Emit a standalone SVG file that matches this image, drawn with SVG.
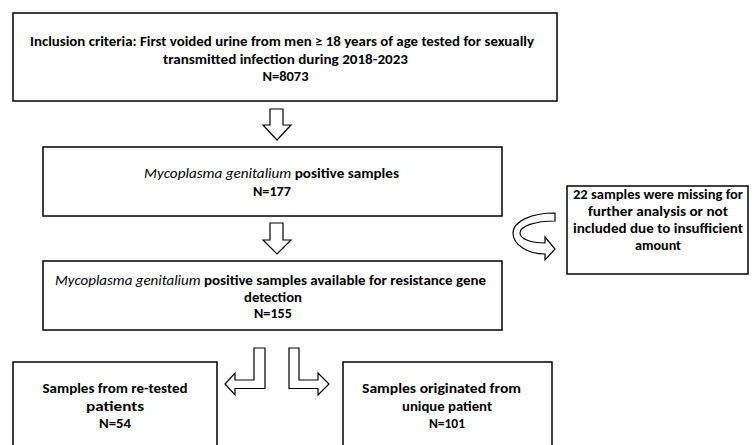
<svg xmlns="http://www.w3.org/2000/svg" width="756" height="445" viewBox="0 0 756 445">
<style>
.box{fill:#fff;stroke:#000;stroke-width:1.5}
.arr{fill:#fff;stroke:#000;stroke-width:1.2;stroke-linejoin:miter}
text{font-family:Carlito,Lato,"Liberation Sans",sans-serif;font-size:13.5px;font-weight:bold;fill:#000;text-anchor:middle}
.it{font-style:italic;font-weight:normal}
</style>
<rect width="756" height="445" fill="#fff"/>
<g id="connectors">
<polygon class="arr" points="270,109 283,109 283,125 291,125 277,140 263,125 270,125"/>
<polygon class="arr" points="270,223 283,223 283,240 291,240 277,254 263,240 270,240"/>
<path class="arr" d="M555,213 C530,213 513,222 513,233 C513,245 528,254 545,254 L545,260 L555,249 L545,237 L545,243 C531,243 520,239 520,233 C520,226 535,221 555,221 Z"/>
<polygon class="arr" points="254,348 265,348 265,388.5 235,388.5 235,395 225,384 235,373 235,380 254,380"/>
<polygon class="arr" points="289,348 299,348 299,380 318,380 318,373 329,384 318,395 318,388.5 289,388.5"/>
</g>
<g id="n1">
<rect class="box" x="13" y="13" width="544" height="88"/>
<text x="282" y="46" textLength="504" lengthAdjust="spacingAndGlyphs">Inclusion criteria: First voided urine from men ≥ 18 years of age tested for sexually</text>
<text x="285.5" y="63.5" textLength="245" lengthAdjust="spacingAndGlyphs">transmitted  infection during 2018-2023</text>
<text x="285.5" y="81" textLength="46" lengthAdjust="spacingAndGlyphs">N=8073</text>
</g>
<g id="n2">
<rect class="box" x="43" y="147" width="459" height="69"/>
<text x="271.5" y="178" textLength="255" lengthAdjust="spacingAndGlyphs"><tspan class="it">Mycoplasma genitalium</tspan>  positive samples</text>
<text x="272" y="196" textLength="38" lengthAdjust="spacingAndGlyphs">N=177</text>
</g>
<g id="n3">
<rect class="box" x="43" y="261" width="459" height="69"/>
<text x="270.5" y="285" textLength="431" lengthAdjust="spacingAndGlyphs"><tspan class="it">Mycoplasma genitalium</tspan> positive samples available for resistance gene</text>
<text x="273" y="301.5" textLength="58" lengthAdjust="spacingAndGlyphs">detection</text>
<text x="273" y="318" textLength="38" lengthAdjust="spacingAndGlyphs">N=155</text>
</g>
<g id="n4">
<rect class="box" x="567" y="186" width="181" height="88"/>
<text x="658" y="199" textLength="170" lengthAdjust="spacingAndGlyphs">22 samples were missing for</text>
<text x="658" y="216" textLength="140" lengthAdjust="spacingAndGlyphs">further analysis or not</text>
<text x="658" y="233" textLength="170" lengthAdjust="spacingAndGlyphs">included due to insufficient</text>
<text x="658" y="250" textLength="46" lengthAdjust="spacingAndGlyphs">amount</text>
</g>
<g id="n5">
<rect class="box" x="13" y="362" width="204" height="100"/>
<text x="115" y="393" textLength="145" lengthAdjust="spacingAndGlyphs">Samples from re-tested</text>
<text x="115" y="411" textLength="58" lengthAdjust="spacingAndGlyphs">patients</text>
<text x="115" y="428" textLength="32" lengthAdjust="spacingAndGlyphs">N=54</text>
</g>
<g id="n6">
<rect class="box" x="343" y="362" width="209" height="100"/>
<text x="441.5" y="393" textLength="159" lengthAdjust="spacingAndGlyphs">Samples originated from</text>
<text x="447" y="411" textLength="90" lengthAdjust="spacingAndGlyphs">unique patient</text>
<text x="447" y="428" textLength="36" lengthAdjust="spacingAndGlyphs">N=101</text>
</g>
</svg>
